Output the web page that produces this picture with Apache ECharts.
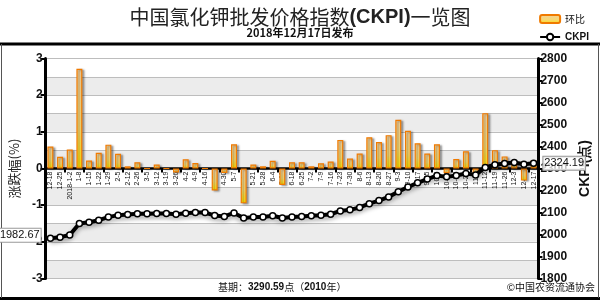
<!DOCTYPE html>
<html><head><meta charset="utf-8">
<script src="https://cdn.jsdelivr.net/npm/echarts@6/dist/echarts.min.js"></script>
<style>html,body{margin:0;padding:0;background:#fff}#c{width:600px;height:300px}</style>
</head><body><div id="c"></div>
<script>
const categories = ['12-18','12-25','2018-1-2','1-8','1-15','1-22','1-29','2-5','2-12','2-26','3-5','3-12','3-19','3-26','4-2','4-9','4-16','4-23','4-30','5-7','5-14','5-21','5-28','6-4','6-11','6-18','6-25','7-2','7-9','7-16','7-23','7-30','8-6','8-13','8-20','8-27','9-3','9-10','9-17','9-25','10-8','10-15','10-22','10-29','11-5','11-12','11-19','11-26','12-3','12-10','12-17'];
const momChange = [0.60,0.32,0.52,2.72,0.22,0.43,0.65,0.40,0.06,0.17,0,0.11,0,-0.11,0.25,0.15,0,-0.60,-0.12,0.66,-0.95,0.11,0.06,0.21,-0.45,0.17,0.17,0.06,0.14,0.19,0.78,0.27,0.41,0.85,0.72,0.91,1.33,1.03,0.69,0.41,0.66,-0.13,0.26,0.47,-0.13,1.51,0.50,0.33,0.17,-0.33,0.22];
const ckpi = [1982.67,1988,1998,2050,2056,2065,2079,2088,2091,2094,2094,2095,2095,2092,2097,2100,2100,2086,2082,2098,2075,2079,2080,2085,2075,2080,2082,2085,2088,2092,2107,2112,2123,2140,2154,2171,2194,2216,2235,2252,2268,2262,2268,2277,2271,2305,2317,2323,2327,2319,2324.19];
const leftRange = [-3, 3];
const rightRange = [1800, 2800];

const NUM = '"Liberation Sans", Arial, sans-serif';
const CJK = '"Noto Sans CJK SC", sans-serif';

const GRID_TOP = 58.5, GRID_BOTTOM = 21.5, H = 300;
const plotH = H - GRID_TOP - GRID_BOTTOM;
// x axis sits on the zero line of the left axis
const zeroOffset = -plotH * (0 - leftRange[0]) / (leftRange[1] - leftRange[0]);

const ckpiData = ckpi.map((v, i) => {
  if (i === 0) return {value: v, label: {show: true, position: 'left', distance: 6, offset: [0, -3]}};
  if (i === ckpi.length - 1) return {value: v, label: {show: true, position: 'right', distance: 6, backgroundColor: 'rgba(255,255,255,0.75)'}};
  return v;
});

const chart = echarts.init(document.getElementById('c'), null, {renderer: 'canvas'});
chart.setOption({
  animation: false,
  backgroundColor: '#fff',
  title: {
    text: '{c|中国氯化钾批发价格指数}{b|(CKPI)}{c|一览图}',
    subtext: '2018年12月17日发布',
    left: 'center', top: 2, itemGap: 0,
    textStyle: {fontWeight: 'normal', rich: {
      c: {fontFamily: CJK, fontSize: 20, fontWeight: 'normal', color: '#222'},
      b: {fontFamily: NUM, fontSize: 20, fontWeight: 'bold', color: '#222'}
    }},
    subtextStyle: {fontFamily: CJK, fontSize: 11, fontWeight: 'bold', color: '#111'}
  },
  legend: {
    orient: 'vertical', right: 6, top: 9, itemWidth: 20, itemHeight: 8, itemGap: 8,
    data: ['环比', 'CKPI'],
    formatter: n => n === 'CKPI' ? '{b|CKPI}' : '{n|环比}',
    textStyle: {rich: {b: {fontFamily: NUM, fontWeight: 'bold', fontSize: 10, color: '#111'}, n: {fontFamily: CJK, fontSize: 10, color: '#111'}}}
  },
  grid: {left: 42, right: 55, top: GRID_TOP, bottom: GRID_BOTTOM},
  xAxis: {
    type: 'category', data: categories, boundaryGap: true, position: 'bottom', offset: zeroOffset,
    axisLine: {onZero: false, lineStyle: {color: '#000', width: 2.5}},
    axisTick: {show: true, interval: 1, length: 4, lineStyle: {color: '#000', width: 2}},
    axisLabel: {interval: 0, rotate: 90, fontSize: 7, margin: 3, color: '#111', fontFamily: NUM}
  },
  yAxis: [
    {type: 'value', position: 'left', min: leftRange[0], max: leftRange[1], interval: 1,
     name: '涨跌幅(%)', nameLocation: 'middle', nameGap: 24, nameRotate: 90,
     nameTextStyle: {fontFamily: CJK, fontSize: 13, color: '#222'},
     axisLine: {show: true, lineStyle: {color: '#000', width: 3}},
     axisTick: {show: true, length: 5, lineStyle: {color: '#000', width: 2}},
     axisLabel: {fontFamily: NUM, fontWeight: 'bold', fontSize: 12, color: '#111', margin: 3, formatter: v => String(v)},
     splitLine: {show: false}},
    {type: 'value', position: 'right', min: rightRange[0], max: rightRange[1], interval: 100,
     name: 'CKPI(点)', nameLocation: 'middle', nameGap: 38, nameRotate: 90,
     nameTextStyle: {fontFamily: NUM, fontWeight: 'bold', fontSize: 14, color: '#111'},
     axisLine: {show: true, lineStyle: {color: '#000', width: 3}},
     axisTick: {show: true, length: 4, lineStyle: {color: '#000', width: 2}},
     axisLabel: {fontFamily: NUM, fontWeight: 'bold', fontSize: 12, color: '#111', margin: 2, formatter: v => String(v)},
     splitLine: {show: false}},
    {type: 'value', position: 'left', min: leftRange[0], max: leftRange[1], interval: 0.5, show: true,
     axisLine: {show: false}, axisTick: {show: false}, axisLabel: {show: false},
     splitLine: {show: true, lineStyle: {color: '#bdbdbd', width: 1}},
     splitArea: {show: true, areaStyle: {color: ['#ececec', '#ffffff']}}}
  ],
  series: [
    {name: '环比', type: 'bar', yAxisIndex: 0, data: momChange, barWidth: 6, z: 3,
     itemStyle: {
       color: new echarts.graphic.LinearGradient(0, 0, 0, 1, [
         {offset: 0, color: '#f3cf9a'}, {offset: 0.6, color: '#f7d870'}, {offset: 1, color: '#ffe000'}]),
       borderColor: '#f07a00', borderWidth: 1.2,
       shadowColor: 'rgba(0,0,0,0.35)', shadowBlur: 2, shadowOffsetX: 2, shadowOffsetY: 1
     }},
    {name: 'CKPI', type: 'line', yAxisIndex: 1, data: ckpiData, z: 5,
     symbol: 'circle', symbolSize: 6, showAllSymbol: true,
     lineStyle: {color: '#000', width: 4, shadowColor: 'rgba(0,0,0,0.35)', shadowBlur: 4, shadowOffsetY: 3},
     itemStyle: {color: '#fff', borderColor: '#000', borderWidth: 1.5},
     label: {show: false, fontFamily: NUM, fontSize: 11, color: '#111',
       backgroundColor: '#fff', borderColor: '#999', borderWidth: 1, padding: [1, 1],
       formatter: p => p.value.toFixed(2)}}
  ],
  graphic: [
    {type: 'line', shape: {x1: 0, y1: 44, x2: 600, y2: 44}, style: {stroke: '#000', lineWidth: 3}},
    {type: 'line', shape: {x1: 0, y1: 298.5, x2: 600, y2: 298.5}, style: {stroke: '#000', lineWidth: 3}},
    {type: 'line', shape: {x1: 1.5, y1: 44, x2: 1.5, y2: 298}, style: {stroke: '#555', lineWidth: 1}},
    {type: 'line', shape: {x1: 598.5, y1: 44, x2: 598.5, y2: 298}, style: {stroke: '#555', lineWidth: 1}},
    {type: 'text', left: 218, top: 282, style: {
      text: '{n|基期：}{b|3290.59}{n|点（}{b|2010}{n|年）}',
      rich: {n: {fontFamily: CJK, fontSize: 10, fill: '#111'}, b: {fontFamily: NUM, fontSize: 10, fontWeight: 'bold', fill: '#111'}}}},
    {type: 'text', right: 5, top: 282, style: {text: '©中国农资流通协会', font: '10px "Noto Sans CJK SC"', fill: '#111'}}
  ]
});
</script></body></html>
